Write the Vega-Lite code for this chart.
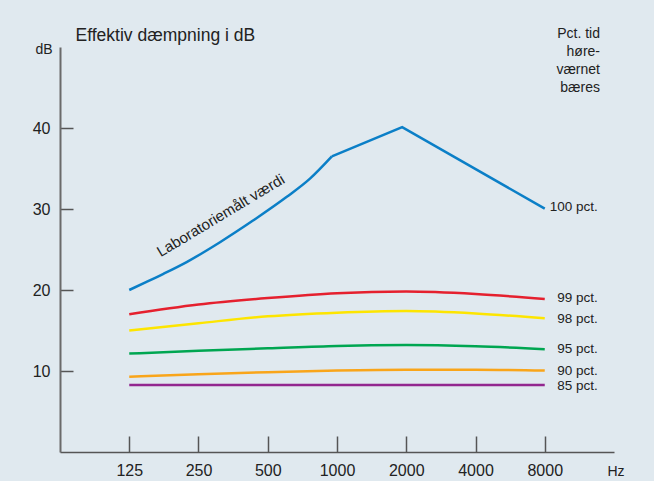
{
  "$schema": "https://vega.github.io/schema/vega-lite/v6.json",
  "width": 554,
  "height": 405,
  "autosize": {"type": "none"},
  "padding": {"left": 60, "top": 47, "right": 40, "bottom": 29},
  "background": "#e0e9ef",
  "config": {
    "font": "Liberation Sans",
    "view": {"stroke": null},
    "axis": {
      "grid": false,
      "labelFont": "Liberation Sans",
      "titleFont": "Liberation Sans",
      "labelColor": "#222222",
      "titleColor": "#222222",
      "titleFontWeight": "normal",
      "domainColor": "#555555",
      "tickColor": "#555555"
    }
  },
  "datasets": {
    "curves": [
      {"series": "100 pct.", "hz": 125, "db": 20.0},
      {"series": "100 pct.", "hz": 148.6, "db": 21.0},
      {"series": "100 pct.", "hz": 176, "db": 22.0},
      {"series": "100 pct.", "hz": 222, "db": 23.45},
      {"series": "100 pct.", "hz": 310, "db": 25.9},
      {"series": "100 pct.", "hz": 433, "db": 28.6},
      {"series": "100 pct.", "hz": 605, "db": 31.5},
      {"series": "100 pct.", "hz": 763, "db": 33.75},
      {"series": "100 pct.", "hz": 950, "db": 36.5},
      {"series": "100 pct.", "hz": 1920, "db": 40.1},
      {"series": "100 pct.", "hz": 8000, "db": 30.05},
      {"series": "99 pct.", "hz": 125, "db": 17.0},
      {"series": "99 pct.", "hz": 250, "db": 18.2},
      {"series": "99 pct.", "hz": 500, "db": 19.0},
      {"series": "99 pct.", "hz": 1000, "db": 19.6},
      {"series": "99 pct.", "hz": 2000, "db": 19.8},
      {"series": "99 pct.", "hz": 4000, "db": 19.5},
      {"series": "99 pct.", "hz": 8000, "db": 18.9},
      {"series": "98 pct.", "hz": 125, "db": 15.0},
      {"series": "98 pct.", "hz": 250, "db": 15.9},
      {"series": "98 pct.", "hz": 500, "db": 16.75},
      {"series": "98 pct.", "hz": 1000, "db": 17.2},
      {"series": "98 pct.", "hz": 2000, "db": 17.4},
      {"series": "98 pct.", "hz": 4000, "db": 17.1},
      {"series": "98 pct.", "hz": 8000, "db": 16.5},
      {"series": "95 pct.", "hz": 125, "db": 12.15},
      {"series": "95 pct.", "hz": 250, "db": 12.5},
      {"series": "95 pct.", "hz": 500, "db": 12.8},
      {"series": "95 pct.", "hz": 1000, "db": 13.1},
      {"series": "95 pct.", "hz": 2000, "db": 13.2},
      {"series": "95 pct.", "hz": 4000, "db": 13.05},
      {"series": "95 pct.", "hz": 8000, "db": 12.7},
      {"series": "90 pct.", "hz": 125, "db": 9.3},
      {"series": "90 pct.", "hz": 250, "db": 9.6},
      {"series": "90 pct.", "hz": 500, "db": 9.85},
      {"series": "90 pct.", "hz": 1000, "db": 10.05},
      {"series": "90 pct.", "hz": 2000, "db": 10.15},
      {"series": "90 pct.", "hz": 4000, "db": 10.15},
      {"series": "90 pct.", "hz": 8000, "db": 10.05},
      {"series": "85 pct.", "hz": 125, "db": 8.27},
      {"series": "85 pct.", "hz": 250, "db": 8.27},
      {"series": "85 pct.", "hz": 500, "db": 8.27},
      {"series": "85 pct.", "hz": 1000, "db": 8.27},
      {"series": "85 pct.", "hz": 2000, "db": 8.27},
      {"series": "85 pct.", "hz": 4000, "db": 8.27},
      {"series": "85 pct.", "hz": 8000, "db": 8.27}
    ],
    "labels": [
      {"series": "100 pct.", "hz": 8000, "db": 30.2},
      {"series": "99 pct.", "hz": 8000, "db": 19.0},
      {"series": "98 pct.", "hz": 8000, "db": 16.4},
      {"series": "95 pct.", "hz": 8000, "db": 12.7},
      {"series": "90 pct.", "hz": 8000, "db": 10.05},
      {"series": "85 pct.", "hz": 8000, "db": 8.1}
    ],
    "notes": [
      {"text": "Laboratoriemålt værdi", "hz": 312, "db": 29.2}
    ]
  },
  "layer": [
    {
      "data": {"name": "curves"},
      "transform": [{"filter": "datum.series === '100 pct.' && datum.hz >= 950"}],
      "mark": {"type": "line", "strokeWidth": 2.5, "interpolate": "linear"},
      "encoding": {
        "x": {
          "field": "hz", "type": "quantitative",
          "scale": {"type": "log", "base": 2, "domain": [62.5, 16000], "nice": false},
          "axis": {
            "orient": "bottom",
            "values": [125, 250, 500, 1000, 2000, 4000, 8000],
            "format": "d",
            "tickSize": -16,
            "tickWidth": 1.5,
            "domainWidth": 1.5,
            "labelPadding": 26,
            "labelFontSize": 16,
            "labelOverlap": false,
            "labelFlush": false,
            "title": "Hz",
            "titleX": 547,
            "titleY": 23,
            "titleAlign": "left",
            "titleBaseline": "alphabetic",
            "titleFontSize": 14
          }
        },
        "y": {
          "field": "db", "type": "quantitative",
          "scale": {"domain": [0, 50], "nice": false},
          "axis": {
            "orient": "left",
            "values": [10, 20, 30, 40],
            "tickSize": -13,
            "tickWidth": 1.5,
            "domainWidth": 2,
            "domainColor": "#6a6a6a",
            "labelPadding": 23,
            "labelFontSize": 16,
            "title": "dB",
            "titleAngle": 0,
            "titleX": -8,
            "titleY": 6,
            "titleAlign": "right",
            "titleBaseline": "alphabetic",
            "titleFontSize": 14
          }
        },
        "color": {
          "field": "series", "type": "nominal",
          "scale": {
            "domain": ["100 pct.", "99 pct.", "98 pct.", "95 pct.", "90 pct.", "85 pct."],
            "range": ["#0b7fc7", "#e5202e", "#fde500", "#00a651", "#f9a51a", "#92278f"]
          },
          "legend": null
        }
      }
    },
    {
      "data": {"name": "curves"},
      "transform": [{"filter": "datum.series === '100 pct.' && datum.hz <= 950"}],
      "mark": {"type": "line", "strokeWidth": 2.5, "interpolate": "monotone"},
      "encoding": {
        "x": {"field": "hz", "type": "quantitative", "axis": null},
        "y": {"field": "db", "type": "quantitative", "axis": null},
        "color": {"field": "series", "type": "nominal", "legend": null}
      }
    },
    {
      "data": {"name": "curves"},
      "transform": [{"filter": "datum.series !== '100 pct.'"}],
      "mark": {"type": "line", "strokeWidth": 2.5, "interpolate": "monotone"},
      "encoding": {
        "x": {"field": "hz", "type": "quantitative", "axis": null},
        "y": {"field": "db", "type": "quantitative", "axis": null},
        "color": {"field": "series", "type": "nominal", "legend": null}
      }
    },
    {
      "data": {"name": "labels"},
      "mark": {"type": "text", "align": "right", "baseline": "middle", "dx": 53, "fontSize": 13.5, "color": "#222222"},
      "encoding": {
        "x": {
          "field": "hz", "type": "quantitative",
          "axis": {
            "orient": "top",
            "domain": false, "ticks": false, "labels": false,
            "title": "Effektiv dæmpning i dB",
            "titleX": 15,
            "titleY": -7,
            "titleAlign": "left",
            "titleAnchor": "start",
            "titleBaseline": "alphabetic",
            "titleFontSize": 17.5
          }
        },
        "y": {
          "field": "db", "type": "quantitative",
          "axis": {
            "orient": "right",
            "domain": false, "ticks": false, "labels": false,
            "title": ["Pct. tid", "høre-", "værnet", "bæres"],
            "titleAngle": 0,
            "titleX": -14.5,
            "titleY": -10,
            "titleAlign": "right",
            "titleBaseline": "alphabetic",
            "titleFontSize": 14,
            "titleLineHeight": 18
          }
        },
        "text": {"field": "series", "type": "nominal"}
      }
    },
    {
      "data": {"name": "notes"},
      "mark": {"type": "text", "align": "center", "baseline": "middle", "angle": 329, "fontSize": 15, "color": "#222222"},
      "encoding": {
        "x": {"field": "hz", "type": "quantitative", "axis": null},
        "y": {"field": "db", "type": "quantitative", "axis": null},
        "text": {"field": "text", "type": "nominal"}
      }
    }
  ],
  "resolve": {"axis": {"x": "independent", "y": "independent"}}
}
